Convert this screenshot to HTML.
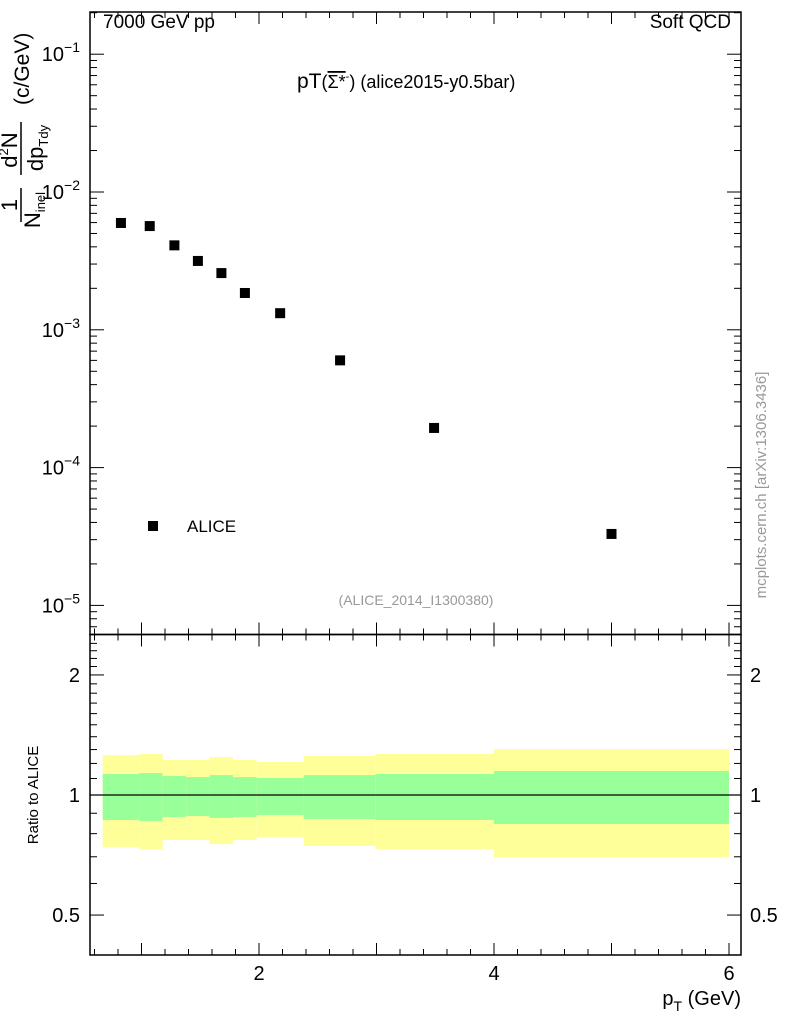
<!DOCTYPE html>
<html><head><meta charset="utf-8"><style>
body{margin:0;background:#fff;}
svg{display:block;font-family:"Liberation Sans",sans-serif;}
</style></head><body>
<svg id="c" width="786" height="1024" xmlns="http://www.w3.org/2000/svg"></svg>
<script>
const xCenters=[0.825,1.07,1.28,1.48,1.68,1.88,2.18,2.69,3.49,5.0];
const yValues=[5.96e-3,5.66e-3,4.1e-3,3.16e-3,2.58e-3,1.85e-3,1.32e-3,6.0e-4,1.94e-4,3.3e-5];
const binEdges=[0.67,0.98,1.18,1.38,1.58,1.78,1.98,2.38,2.99,4.0,6.0];
const yellowHi=[1.26,1.267,1.224,1.224,1.245,1.224,1.21,1.253,1.267,1.304];
const greenHi=[1.129,1.135,1.116,1.109,1.122,1.109,1.103,1.122,1.129,1.149];
const greenLo=[0.866,0.861,0.881,0.886,0.876,0.881,0.891,0.871,0.866,0.846];
const yellowLo=[0.741,0.732,0.771,0.771,0.753,0.771,0.785,0.745,0.732,0.699];
const xTicks=[2,4,6];
const yTickExp=[-1,-2,-3,-4,-5];
const rTicks=[0.5,1,2];

const svg=document.getElementById('c');
const NS='http://www.w3.org/2000/svg';
function mk(t,a,p){const e=document.createElementNS(NS,t);for(const k in a)e.setAttribute(k,a[k]);(p||svg).appendChild(e);return e;}
const L=90,R=741,T=12,M=634.5,B=955;
const X=v=>24+117.5*v;
const Y=v=>192-137.8*(Math.log10(v)+2);
const RY=v=>795-398.8*Math.log10(v);

for(let i=0;i<binEdges.length-1;i++){
  const x0=X(binEdges[i]),x1=X(binEdges[i+1]);
  const y=mk('rect',{x:x0,y:RY(yellowHi[i]),width:x1-x0,height:RY(yellowLo[i])-RY(yellowHi[i]),fill:'#ffff99'});
  
  
  const g=mk('rect',{x:x0,y:RY(greenHi[i]),width:x1-x0,height:RY(greenLo[i])-RY(greenHi[i]),fill:'#99ff99'});
  
  
}
mk('line',{x1:L,x2:R,y1:RY(1),y2:RY(1),stroke:'#000','stroke-width':1.2});

const f1=mk('rect',{x:L,y:T,width:R-L,height:M-T,fill:'none',stroke:'#000','stroke-width':1.5});

const f2=mk('rect',{x:L,y:M,width:R-L,height:B-M,fill:'none',stroke:'#000','stroke-width':1.5});


for(let v=0.6;v<=6.1;v+=0.2){
  const vv=Math.round(v*10)/10; if(vv<0.57)continue;
  const major=Math.abs(vv-Math.round(vv))<1e-6;
  const len=major?12:6;
  for(const [yb,yt] of [[M,T],[B,M]]){
    mk('line',{x1:X(vv),x2:X(vv),y1:yb,y2:yb-len,stroke:'#000'});
    mk('line',{x1:X(vv),x2:X(vv),y1:yt,y2:yt+len,stroke:'#000'});
  }
}
xTicks.forEach(v=>{const t=mk('text',{x:X(v),y:980,'font-size':20,'text-anchor':'middle'});t.textContent=v;
});

for(let e=-6;e<=-1;e++){for(let m=1;m<10;m++){const v=m*Math.pow(10,e);const y=Y(v);if(y<T||y>M)continue;
 const len=m==1?14:7;
 mk('line',{x1:L,x2:L+len,y1:y,y2:y,stroke:'#000'});mk('line',{x1:R,x2:R-len,y1:y,y2:y,stroke:'#000'});}}
yTickExp.forEach(e=>{const t=mk('text',{x:80,y:Y(Math.pow(10,e))+7,'font-size':20,'text-anchor':'end'});
t.innerHTML='10<tspan dy="-9" font-size="14">'+(e<0?'−'+(-e):e)+'</tspan>';
});

for(let v=0.5;v<=2.5;v+=0.1){const vv=Math.round(v*10)/10;const y=RY(vv);if(y<M||y>B)continue;
 const len=(vv==0.5||vv==1||vv==2)?14:7;
 mk('line',{x1:L,x2:L+len,y1:y,y2:y,stroke:'#000'});mk('line',{x1:R,x2:R-len,y1:y,y2:y,stroke:'#000'});}
rTicks.forEach(v=>{for(const [x,a] of [[80,'end'],[750,'start']]){const t=mk('text',{x:x,y:RY(v)+7,'font-size':20,'text-anchor':a});t.textContent=v;
}});

xCenters.forEach((x,i)=>{const p=mk('rect',{x:X(x)-5,y:Y(yValues[i])-5,width:10,height:10,fill:'#000'});
});
</script>
<svg width="786" height="1024" style="position:absolute;left:0;top:0" xmlns="http://www.w3.org/2000/svg">
<text x="103" y="28" font-size="19">7000 GeV pp</text>
<text x="731" y="28" font-size="19" text-anchor="end">Soft QCD</text>
<text x="297" y="88" font-size="18"><tspan font-size="21">pT</tspan>(<tspan text-decoration="overline">Σ*</tspan><tspan dy="-8" font-size="11">-</tspan><tspan dy="8">) (alice2015-y0.5bar)</tspan></text>
<rect x="148" y="521" width="10" height="10" fill="#000"/>
<text x="187" y="532" font-size="17">ALICE</text>
<text x="416" y="605" font-size="14" fill="#999" text-anchor="middle">(ALICE_2014_I1300380)</text>
<text transform="translate(766,485) rotate(-90)" font-size="15" fill="#999" text-anchor="middle">mcplots.cern.ch [arXiv:1306.3436]</text>
<text transform="translate(38,795) rotate(-90)" font-size="15" text-anchor="middle">Ratio to ALICE</text>
<text x="741" y="1005" font-size="20" text-anchor="end">p<tspan dy="6" font-size="14">T</tspan><tspan dy="-6"> (GeV)</tspan></text>
<g transform="translate(21,250) rotate(-90)">
<text x="45" y="-4" font-size="22" text-anchor="middle">1</text>
<line x1="28" x2="62" y1="0" y2="0" stroke="#000" stroke-width="1.5"/>
<text x="40" y="19" font-size="22" text-anchor="middle">N<tspan dy="5" font-size="13">inel</tspan></text>
<text x="100" y="-4" font-size="22" text-anchor="middle">d<tspan dy="-9" font-size="13">2</tspan><tspan dy="9">N</tspan></text>
<line x1="75" x2="128" y1="0" y2="0" stroke="#000" stroke-width="1.5"/>
<text x="102" y="22" font-size="22" text-anchor="middle">dp<tspan dy="5" font-size="13">Tdy</tspan></text>
<text x="145" y="8" font-size="21">(c/GeV)</text>
</g>
</svg>
</body></html>
